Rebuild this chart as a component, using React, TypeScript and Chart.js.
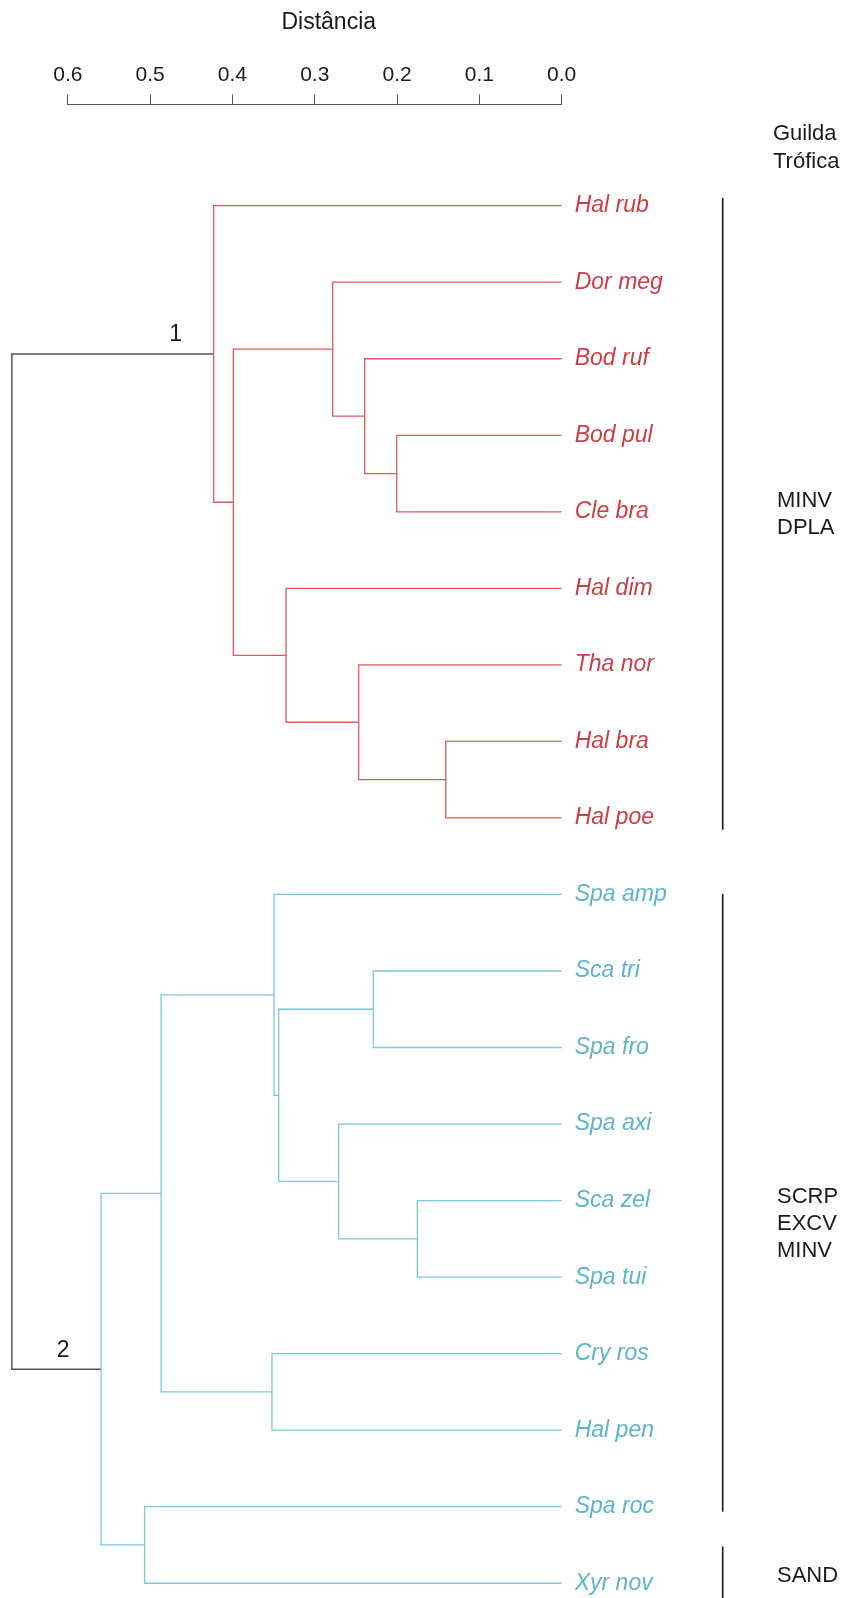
import { useEffect, useRef } from "react";
import { Chart, registerables } from "chart.js";

Chart.register(...registerables);

const FONT = '"Liberation Sans", Arial, Helvetica, sans-serif';

// Leaves, top to bottom
const leafNames = [
  "Hal rub", "Dor meg", "Bod ruf", "Bod pul", "Cle bra", "Hal dim", "Tha nor", "Hal bra", "Hal poe",
  "Spa amp", "Sca tri", "Spa fro", "Spa axi", "Sca zel", "Spa tui", "Cry ros", "Hal pen", "Spa roc", "Xyr nov",
];
const leafCluster = [1, 1, 1, 1, 1, 1, 1, 1, 1, 2, 2, 2, 2, 2, 2, 2, 2, 2, 2];

// Agglomeration steps: negative = leaf (-(index+1)), positive = earlier step (1-based)
const mergeLeft = [-4, -3, -2, -8, -7, -6, 3, -1, -14, -13, -11, 11, -10, -16, 13, -18, 15, 8];
const mergeRight = [-5, 1, 2, -9, 4, 5, 6, 7, -15, 9, -12, 10, 12, -17, 14, -19, 16, 17];
const mergeHeight = [
  0.2004, 0.2393, 0.2782, 0.1409, 0.2466, 0.3349, 0.3989, 0.4228,
  0.1754, 0.2709, 0.2289, 0.3438, 0.3495, 0.352, 0.4867, 0.5067, 0.5596, 0.668,
];
const mergeCluster = [1, 1, 1, 1, 1, 1, 1, 1, 2, 2, 2, 2, 2, 2, 2, 2, 2, 0];

// Cluster numbers and the step at which each cluster is formed
const clusterLabels = ["1", "2"];
const clusterStep = [8, 17];

const distanceTicks = [0, 0.1, 0.2, 0.3, 0.4, 0.5, 0.6];
const axisTitle = "Distância";

const guildHeader = ["Guilda", "Trófica"];
const guildNames = [["MINV", "DPLA"], ["SCRP", "EXCV", "MINV"], ["SAND"]];
const guildFirst = [0, 9, 18];
const guildLast = [8, 17, 18];

const LINE_COLOR: Record<number, string> = { 0: "#555555", 1: "#e05a60", 2: "#7bc9db" };
const TEXT_COLOR: Record<number, string> = { 1: "#cc3d44", 2: "#5db4c8" };

// Drawing layout (pixels unless noted)
const LAYOUT = {
  width: 849,
  height: 1598,
  plotLeft: 67.8,
  plotRight: 561.7,
  axisBand: 104.5,
  yMin: -1.3223,
  yMax: 18.193,
  titleValue: 0.283,
  titleY: 23,
  clusterDx: 38,
  clusterDy: 19,
  barX: 722.7,
  barPadTop: [0.105, 0.01, 0.48], // leaf units
  barPadBottom: [0.153, 0.065, 0.3],
  guildX: 777,
  guildShift: [0.04, 0.3, -0.1], // leaf units
  guildLine: 27,
  headerX: 773,
  headerY: [134.3, 161.7],
};

// node coordinates: y = leaf order position, x = merge height
const stepY: number[] = [];
const yOf = (ref: number) => (ref < 0 ? -ref - 1 : stepY[ref - 1]);
const hOf = (ref: number) => (ref < 0 ? 0 : mergeHeight[ref - 1]);
mergeHeight.forEach((_, j) => {
  stepY.push((yOf(mergeLeft[j]) + yOf(mergeRight[j])) / 2);
});

const overlay = {
  id: "dendroOverlay",
  afterDraw(chart: any) {
    const { ctx } = chart;
    const xs = chart.scales.x;
    const ys = chart.scales.y;
    ctx.save();

    ctx.fillStyle = "#1a1a1a";
    ctx.textBaseline = "middle";

    // axis title
    ctx.font = `23px ${FONT}`;
    ctx.textAlign = "center";
    ctx.fillText(axisTitle, xs.getPixelForValue(LAYOUT.titleValue), LAYOUT.titleY);

    // cluster numbers
    ctx.font = `23px ${FONT}`;
    clusterLabels.forEach((lab, k) => {
      const s = clusterStep[k];
      const px = xs.getPixelForValue(mergeHeight[s - 1]) - LAYOUT.clusterDx;
      const py = ys.getPixelForValue(stepY[s - 1]) - LAYOUT.clusterDy;
      ctx.fillText(lab, px, py);
    });

    // guild header
    ctx.textAlign = "left";
    ctx.font = `22px ${FONT}`;
    guildHeader.forEach((t, i) => ctx.fillText(t, LAYOUT.headerX, LAYOUT.headerY[i]));

    // guild bars and names
    guildNames.forEach((names, g) => {
      const top = ys.getPixelForValue(guildFirst[g] - LAYOUT.barPadTop[g]);
      const bottom = ys.getPixelForValue(guildLast[g] + LAYOUT.barPadBottom[g]);
      ctx.strokeStyle = "#1a1a1a";
      ctx.lineWidth = 1.6;
      ctx.beginPath();
      ctx.moveTo(LAYOUT.barX, top);
      ctx.lineTo(LAYOUT.barX, bottom);
      ctx.stroke();

      const center = ys.getPixelForValue((guildFirst[g] + guildLast[g]) / 2 + LAYOUT.guildShift[g]);
      const start = center - ((names.length - 1) * LAYOUT.guildLine) / 2;
      names.forEach((n, i) => ctx.fillText(n, LAYOUT.guildX, start + i * LAYOUT.guildLine));
    });

    ctx.restore();
  },
};

export default function App() {
  const canvasRef = useRef<HTMLCanvasElement | null>(null);

  useEffect(() => {
    document.body.style.margin = "0";
    const canvas = canvasRef.current;
    if (!canvas) return;

    const datasets = mergeHeight.map((h, j) => {
      const L = mergeLeft[j];
      const R = mergeRight[j];
      const c = mergeCluster[j];
      return {
        data: [
          { x: hOf(L), y: yOf(L) },
          { x: h, y: yOf(L) },
          { x: h, y: yOf(R) },
          { x: hOf(R), y: yOf(R) },
        ],
        showLine: true,
        borderColor: LINE_COLOR[c],
        backgroundColor: LINE_COLOR[c],
        borderWidth: c === 0 ? 1.5 : 1.3,
        pointRadius: 0,
        tension: 0,
        fill: false,
        clip: false as any,
      };
    });

    const chart = new Chart(canvas, {
      type: "scatter",
      data: { datasets },
      options: {
        animation: false,
        responsive: false,
        devicePixelRatio: 1,
        events: [],
        layout: {
          padding: {
            left: LAYOUT.plotLeft,
            right: 0,
            top: 0,
            bottom: 0,
          },
        },
        plugins: {
          legend: { display: false },
          tooltip: { enabled: false },
          title: { display: false },
        },
        scales: {
          x: {
            type: "linear",
            position: "top",
            reverse: true,
            min: 0,
            max: 0.6,
            afterBuildTicks: (scale: any) => {
              scale.ticks = distanceTicks.map((v) => ({ value: v }));
            },
            afterFit: (scale: any) => {
              scale.height = LAYOUT.axisBand;
              scale.paddingLeft = 0;
              scale.paddingRight = 0;
            },
            grid: {
              display: true,
              drawOnChartArea: false,
              drawTicks: true,
              tickLength: 10,
              color: "#555555",
              lineWidth: 1,
            },
            border: { display: true, color: "#555555", width: 1 },
            ticks: {
              autoSkip: false,
              maxRotation: 0,
              padding: 7,
              color: "#1a1a1a",
              font: { family: FONT, size: 21 },
              callback: (v: any) => Number(v).toFixed(1),
            },
          },
          y: {
            type: "linear",
            position: "right",
            reverse: true,
            min: LAYOUT.yMin,
            max: LAYOUT.yMax,
            afterBuildTicks: (scale: any) => {
              scale.ticks = leafNames.map((_, i) => ({ value: i }));
            },
            afterFit: (scale: any) => {
              scale.width = LAYOUT.width - LAYOUT.plotRight;
              scale.paddingTop = 0;
              scale.paddingBottom = 0;
            },
            grid: { display: false, drawTicks: false },
            border: { display: false },
            ticks: {
              autoSkip: false,
              padding: 13,
              font: { family: FONT, size: 23, style: "italic" },
              color: (c: any) => TEXT_COLOR[leafCluster[c.index]] || "#333",
              callback: (v: any) => leafNames[Math.round(Number(v))],
            },
          },
        },
      },
      plugins: [overlay],
    });

    return () => chart.destroy();
  }, []);

  return (
    <canvas
      ref={canvasRef}
      width={LAYOUT.width}
      height={LAYOUT.height}
      style={{ display: "block", width: LAYOUT.width, height: LAYOUT.height }}
    />
  );
}
